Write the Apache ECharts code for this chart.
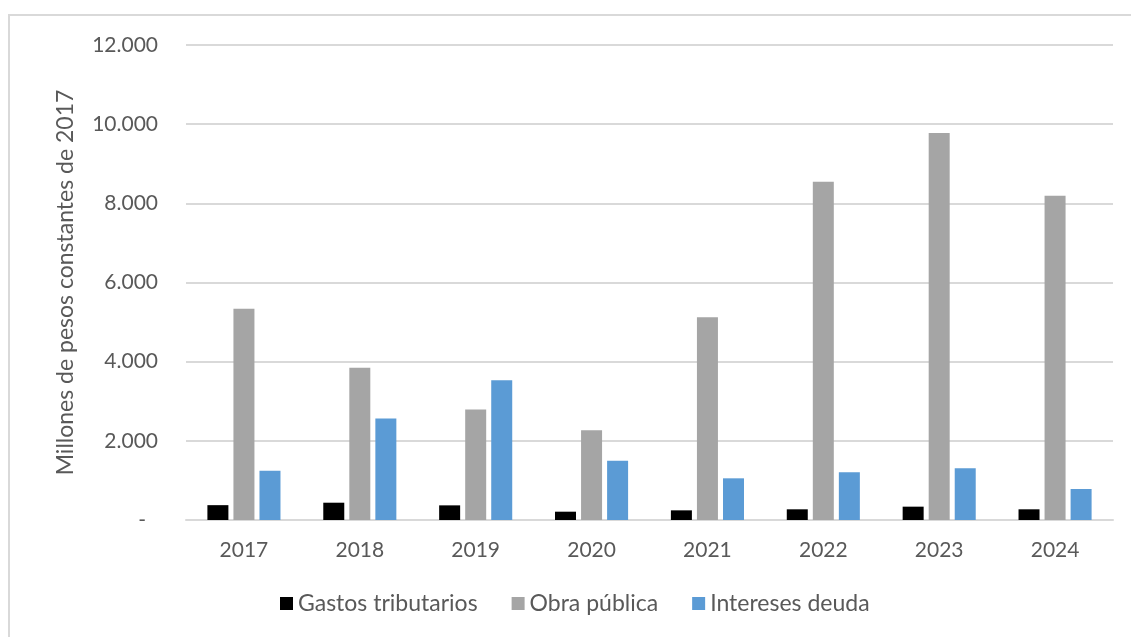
<!DOCTYPE html>
<html>
<head>
<meta charset="utf-8">
<script src="https://cdn.jsdelivr.net/npm/echarts@6/dist/echarts.min.js"></script>
<style>html,body{margin:0;padding:0;background:#fff;}#c{width:1131px;height:637px;}</style>
</head>
<body>
<div id="c"></div>
<script>
const categories = ['2017','2018','2019','2020','2021','2022','2023','2024'];
const gastosTributarios = [375, 437, 370, 210, 244, 270, 337, 270];
const obraPublica = [5334, 3847, 2789, 2268, 5120, 8546, 9780, 8193];
const interesesDeuda = [1243, 2562, 3528, 1495, 1053, 1204, 1305, 783];
const yTicks = [0, 2000, 4000, 6000, 8000, 10000, 12000];

const FONT = 'Lato';
const TXT = '#595959';
const chart = echarts.init(document.getElementById('c'), null, {renderer: 'canvas'});
function fmt(v) {
  if (v === 0) return '{d|-}';
  return String(v).replace(/\B(?=(\d{3})+(?!\d))/g, '.');
}
chart.setOption({
  backgroundColor: '#fff',
  animation: false,
  textStyle: {fontFamily: FONT},
  graphic: [{
    type: 'rect', shape: {x: 9, y: 15, width: 1130, height: 640},
    style: {fill: 'none', stroke: '#d9d9d9', lineWidth: 2}, silent: true
  }],
  grid: {left: 186, right: 18, top: 45, bottom: 117, containLabel: false},
  legend: {
    left: 280, top: 592, padding: 0, icon: 'rect', itemWidth: 13, itemHeight: 13, itemGap: 34,
    textStyle: {color: TXT, fontSize: 23, fontFamily: FONT},
    data: ['Gastos tributarios', 'Obra pública', 'Intereses deuda']
  },
  xAxis: {
    type: 'category', data: categories,
    axisLine: {show: true, lineStyle: {color: '#d9d9d9', width: 2}},
    axisTick: {show: false},
    axisLabel: {color: TXT, fontSize: 21, fontFamily: FONT, margin: 20}
  },
  yAxis: {
    type: 'value', min: yTicks[0], max: yTicks[yTicks.length - 1], interval: 2000,
    name: 'Millones de pesos constantes de 2017', nameLocation: 'middle', nameGap: 109,
    nameTextStyle: {color: TXT, fontSize: 23, fontFamily: FONT},
    axisLine: {show: false}, axisTick: {show: false},
    splitLine: {lineStyle: {color: '#d9d9d9', width: 2}},
    axisLabel: {
      color: TXT, fontSize: 21, fontFamily: FONT, margin: 28, formatter: fmt,
      rich: {d: {color: TXT, fontSize: 21, fontFamily: FONT, padding: [0, 12, 0, 0]}}
    }
  },
  series: [
    {name: 'Gastos tributarios', type: 'bar', data: gastosTributarios, barWidth: 21, barGap: '24%',
      itemStyle: {color: '#000000'}},
    {name: 'Obra pública', type: 'bar', data: obraPublica, barWidth: 21, barGap: '24%',
      itemStyle: {color: '#a5a5a5'}},
    {name: 'Intereses deuda', type: 'bar', data: interesesDeuda, barWidth: 21, barGap: '24%',
      itemStyle: {color: '#5b9bd5'}}
  ]
});
</script>
</body>
</html>
